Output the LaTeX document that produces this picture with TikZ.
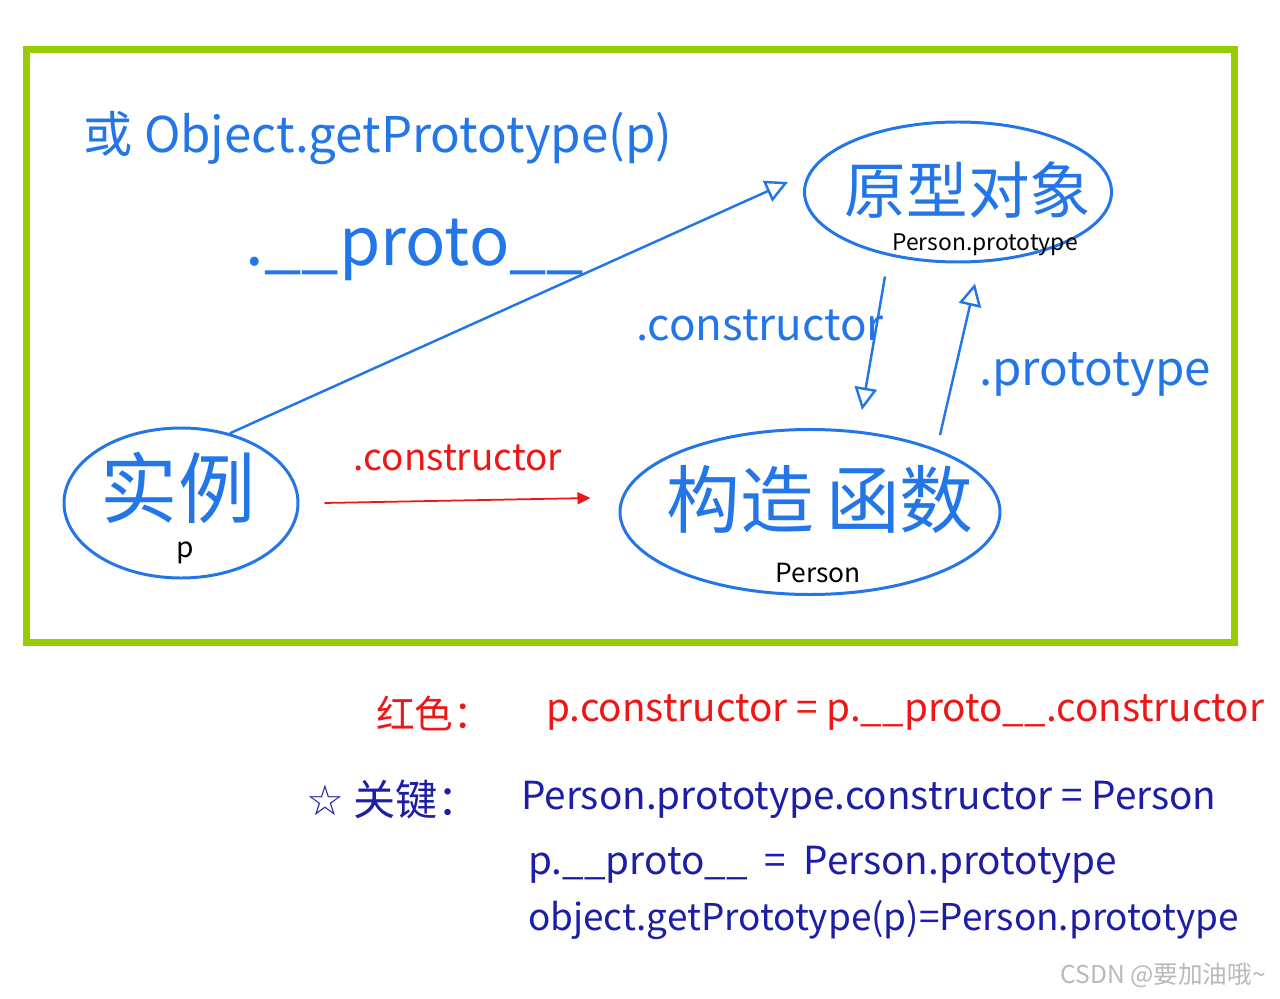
\documentclass[tikz,border=0pt]{standalone}
\usepackage{fontspec}
\setmainfont{Noto Sans CJK SC}
\newfontfamily\symfont{DejaVu Sans}
\usetikzlibrary{positioning,arrows.meta,calc,shapes.geometric}
\definecolor{penblue}{RGB}{35,118,232}
\definecolor{penred}{RGB}{238,22,22}
\definecolor{pennavy}{RGB}{28,30,165}
\definecolor{framegreen}{RGB}{153,204,0}
\definecolor{markgray}{RGB}{185,185,185}

\begin{document}
\begin{tikzpicture}[>=Latex,
  bubble/.style={ellipse,draw=penblue,line width=1.7pt,inner sep=0pt},
  link/.style={draw=penblue,line width=1.4pt,-{Triangle[open,length=4.5mm,width=4.5mm]}},
  redlink/.style={draw=penred,line width=1pt,-{Triangle[length=2.6mm,width=2.4mm]}},
  big/.style={text=penblue,font=\fontsize{44}{44}\selectfont},
  tag/.style={text=black,font=\fontsize{13}{13}\selectfont},
  note/.style={text=penblue,font=\fontsize{28}{28}\selectfont},
  sum/.style={anchor=west,font=\fontsize{22}{22}\selectfont}]
  \useasboundingbox (0,0) rectangle (25.6,19.96);
  % frame
  \draw[framegreen,line width=4pt] (0.53,7.11) rectangle (24.69,18.97);
  % the three objects
  \node[bubble,minimum width=4.68cm,minimum height=3cm] (inst) at (3.62,9.9) {};
  \node[bubble,minimum width=6.14cm,minimum height=2.8cm] (proto) at (19.16,16.12) {};
  \node[bubble,minimum width=7.6cm,minimum height=3.3cm] (ctor) at (16.2,9.72) {};
  \node[big] (insttxt) at (3.56,10.2) {实例};
  \node[tag,font=\fontsize{16}{16}\selectfont] (instp) at (3.7,8.9) {p};
  \node[big,font=\fontsize{35}{35}\selectfont] (prototxt) at (19.36,16.16) {原型对象};
  \node[tag] (protop) at (19.7,15.06) {Person.prototype};
  \node[big,font=\fontsize{42}{42}\selectfont] (ctortxt) at (16.4,9.96) {构造\,函数};
  \node[tag,font=\fontsize{15}{15}\selectfont] (ctorp) at (16.36,8.5) {Person};
  % links
  \draw[link] (inst.55) -- ([xshift=-3mm,yshift=2mm]proto.west);
  \draw[link] ([xshift=-1.46cm,yshift=-0.26cm]proto.south) -- ([xshift=1.04cm,yshift=0.36cm]ctor.north);
  \draw[link] ([xshift=2.6cm,yshift=-0.14cm]ctor.north) -- ([xshift=0.34cm,yshift=-0.4cm]proto.south);
  \draw[redlink] ([xshift=0.5cm]inst.east) -- ([xshift=-0.56cm,yshift=0.28cm]ctor.west);
  % labels
  \node[note] (getlbl) at (7.56,17.2) {或 Object.getPrototype(p)};
  \node[note,font=\fontsize{38}{38}\selectfont] (protolbl) at (8.3,14.96) {.\_\_proto\_\_};
  \node[note,font=\fontsize{25}{25}\selectfont] (ctorlbl) at (15.2,13.46) {.constructor};
  \node[note,font=\fontsize{27}{27}\selectfont] (prototypelbl) at (21.9,12.46) {.prototype};
  \node[note,text=penred,font=\fontsize{21}{21}\selectfont] (redlbl) at (9.16,10.8) {.constructor};
  % notes below the frame
  \node[sum,text=penred] (redhead) at (7.4,5.7) {红色：};
  \node[sum,text=penred] (redline) at (10.8,5.72) {p.constructor = p.\_\_proto\_\_.constructor};
  \node[sum,text=pennavy,font=\fontsize{24}{24}\selectfont] (keyhead) at (6.0,3.96) {{\symfont ☆} 关键：};
  \node[sum,text=pennavy] (keyone) at (10.3,3.96) {Person.prototype.constructor = Person};
  \node[sum,text=pennavy] (keytwo) at (10.44,2.66) {p.\_\_proto\_\_ \ = \ Person.prototype};
  \node[sum,text=pennavy,font=\fontsize{21}{21}\selectfont] (keythree) at (10.44,1.56) {object.getPrototype(p)=Person.prototype};
  \node[anchor=east,text=markgray,font=\fontsize{14}{14}\selectfont] (mark) at (25.44,0.46) {CSDN @要加油哦\textasciitilde};
\end{tikzpicture}
\end{document}
